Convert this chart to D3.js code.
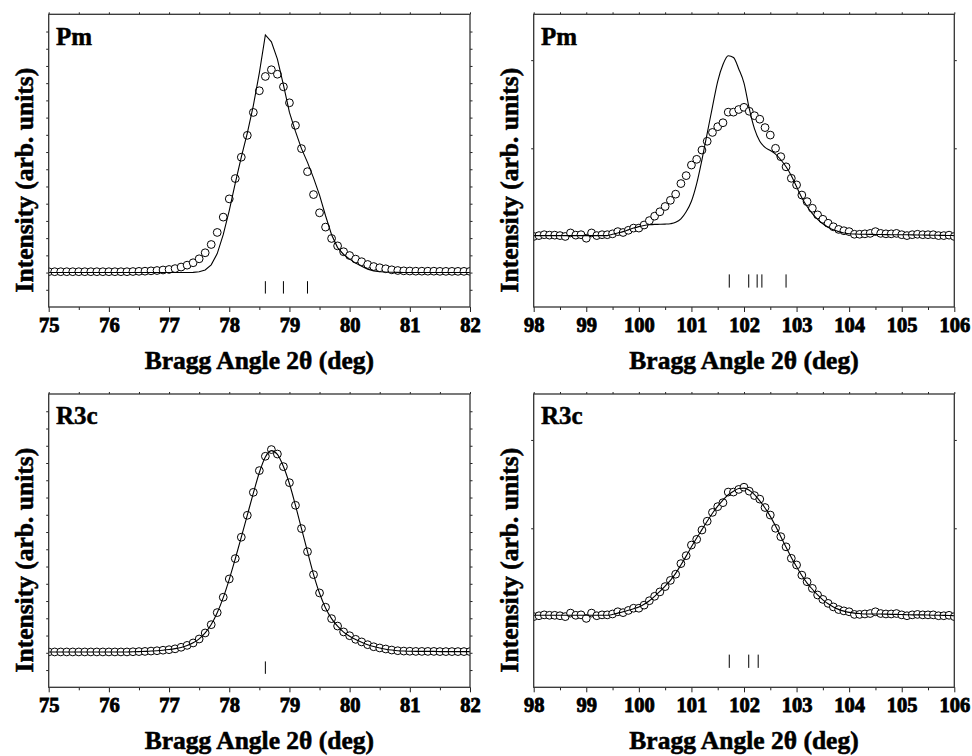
<!DOCTYPE html>
<html><head><meta charset="utf-8">
<script src="https://cdn.jsdelivr.net/npm/d3@7"></script>
<style>
body{margin:0;background:#fff}
text.lbl{font-family:'Liberation Serif','Times New Roman',serif;font-weight:700;fill:#000;stroke:#000}
</style>
</head><body>
<svg id="chart" width="972" height="756"></svg>
<script>
// ---------- DATA ----------
const angleStartLow = 75, angleStartHigh = 98, angleStep = 0.1;

// observed intensities, 75.0 .. 82.0 step 0.1
const obsLow = [
  2.05,2.05,2.05,2.05,2.05,2.05,2.05,2.05,2.05,2.05,2.05,2.05,2.05,2.05,
  2.06,2.07,2.08,2.10,2.12,2.15,2.18,2.23,2.32,2.43,2.57,2.80,3.15,3.63,4.33,5.22,
  6.28,7.46,8.70,9.97,11.30,12.56,13.39,13.78,13.52,12.79,11.86,10.55,9.20,7.86,6.53,5.47,
  4.64,3.98,3.55,3.21,2.99,2.78,2.63,2.47,2.35,2.28,2.22,2.16,2.12,2.10,2.09,2.08,
  2.08,2.08,2.08,2.07,2.07,2.07,2.07,2.07,2.07
];
// calculated profile, Pm model, 75.0 .. 82.0
const fitPmLow = [
  2.0,2.0,2.0,2.0,2.0,2.0,2.0,2.0,2.0,2.0,2.0,2.0,2.0,2.0,2.0,2.0,2.0,2.0,2.0,2.0,2.0,2.0,2.0,2.0,2.01,
  2.05,2.15,2.45,3.1,4.2,5.6,7.2,8.7,10.1,11.7,13.6,15.8,15.4,14.4,12.9,11.3,10.2,9.2,8.4,7.5,6.5,
  5.3,4.2,3.45,3.05,2.78,2.55,2.36,2.2,2.1,2.05,2.03,
  2.02,2.01,2.0,2.0,2.0,2.0,2.0,2.0,2.0,2.0,2.0,2.0,2.0,2.0
];
// calculated profile, R3c model, 75.0 .. 82.0
const fitR3cLow = [
  2.05,2.05,2.05,2.05,2.05,2.05,2.05,2.05,2.05,2.05,2.05,2.05,2.05,2.05,
  2.06,2.07,2.08,2.10,2.12,2.15,2.19,2.24,2.31,2.42,2.58,2.81,3.15,3.64,4.32,5.20,
  6.26,7.45,8.70,9.98,11.25,12.45,13.35,13.72,13.50,12.80,11.80,10.55,9.20,7.86,6.55,5.45,
  4.60,3.98,3.54,3.20,2.96,2.77,2.61,2.47,2.36,2.28,2.21,2.16,2.12,2.10,2.09,2.08,
  2.08,2.08,2.08,2.07,2.07,2.07,2.07,2.07,2.07
];
// observed intensities, 98.0 .. 106.0 step 0.1
const obsHigh = [
  0.00,0.01,0.02,0.015,0.015,0.01,0.00,0.04,0.015,0.02,-0.02,0.04,0.01,0.02,0.02,0.03,0.055,0.045,0.07,0.095,
  0.095,0.13,0.18,0.23,0.28,0.34,0.41,0.48,0.60,0.69,0.81,0.875,0.98,1.08,1.18,1.245,1.29,1.41,1.41,1.44,
  1.465,1.42,1.37,1.33,1.235,1.15,1.0,0.905,0.79,0.66,0.585,0.47,0.395,0.32,0.245,0.195,0.15,0.11,0.08,0.065,
  0.055,0.025,0.025,0.03,0.035,0.055,0.035,0.03,0.03,0.035,0.02,0.01,0.02,0.025,0.02,0.02,0.02,0.01,0.01,0.015,0.0
];
// calculated profile, Pm model, 98.0 .. 106.0
const fitPmHigh = [
  0.01,0.01,0.01,0.01,0.01,0.01,0.01,0.01,0.01,0.01,0.01,0.01,0.01,0.01,0.01,
  0.025,0.04,0.055,0.075,0.095,0.112,0.125,0.133,0.137,0.138,0.14,0.145,0.16,0.2,0.28,
  0.40,0.60,0.87,1.17,1.47,1.76,1.95,2.05,2.03,1.90,1.74,1.45,1.22,1.08,1.01,0.975,0.935,0.87,0.79,0.69,
  0.565,0.44,0.34,0.26,0.195,0.145,0.105,0.075,0.055,0.04,
  0.03,0.028,0.026,0.025,0.024,0.023,0.022,0.021,0.02,0.02,0.02,0.019,0.018,0.017,0.016,0.015,0.014,0.013,0.012,0.011,0.01
];
// calculated profile, R3c model, 98.0 .. 106.0
const fitR3cHigh = [
  0.015,0.015,0.015,0.015,0.015,0.015,0.015,0.015,0.015,0.015,0.015,0.015,0.015,0.015,0.015,
  0.025,0.04,0.055,0.072,0.09,0.11,0.14,0.18,0.23,0.285,0.345,0.41,0.49,0.585,0.685,
  0.79,0.89,0.985,1.08,1.17,1.25,1.32,1.38,1.42,1.45,1.455,1.43,1.38,1.31,1.23,1.135,1.025,0.905,0.785,0.67,
  0.565,0.465,0.38,0.31,0.245,0.19,0.145,0.11,0.082,0.062,0.048,0.04,0.035,
  0.03,0.03,0.03,0.03,0.028,0.026,0.025,0.024,0.022,0.02,0.02,0.02,0.018,0.016,0.015,0.014,0.012,0.01
];
// Bragg reflection positions
const reflPmLow = [78.6, 78.9, 79.3];
const reflR3cLow = [78.6];
const reflPmHigh = [101.72, 102.09, 102.25, 102.34, 102.8];
const reflR3cHigh = [101.72, 102.09, 102.27];

const xTicksLow = [75, 76, 77, 78, 79, 80, 81, 82];
const xTicksHigh = [98, 99, 100, 101, 102, 103, 104, 105, 106];
const yTicksLow = [1,2,3,4,5,6,7,8,9,10,11,12,13,14,15,16];
const yTicksHigh = [1, 2];
const panelLabels = ["Pm", "Pm", "R3c", "R3c"];
const xTitle = "Bragg Angle 2\u03B8 (deg)";
const yTitle = "Intensity (arb. units)";

// ---------- LAYOUT ----------
const svg = d3.select("#chart");

const toPoints = (start, vals) => vals.map((v, i) => ({x: +(start + i * angleStep).toFixed(2), y: v}));

const panels = [
  {box:{l:48.7,r:470,t:14.3,b:307}, xd:[75,82], yd:[0,17], xt:xTicksLow, yt:yTicksLow,
   obs:toPoints(angleStartLow, obsLow), fit:toPoints(angleStartLow, fitPmLow), refl:reflPmLow, rr:[0.78,1.5], curve:d3.curveLinear},
  {box:{l:533.7,r:954.3,t:14.3,b:307}, xd:[98,106], yd:[-0.8,2.52], xt:xTicksHigh, yt:yTicksHigh,
   obs:toPoints(angleStartHigh, obsHigh), fit:toPoints(angleStartHigh, fitPmHigh), refl:reflPmHigh, rr:[-0.58,-0.43], curve:d3.curveMonotoneX},
  {box:{l:48.7,r:470,t:394,b:687.3}, xd:[75,82], yd:[0,17], xt:xTicksLow, yt:yTicksLow,
   obs:toPoints(angleStartLow, obsLow), fit:toPoints(angleStartLow, fitR3cLow), refl:reflR3cLow, rr:[0.78,1.5], curve:d3.curveMonotoneX},
  {box:{l:533.7,r:954.3,t:394,b:687.3}, xd:[98,106], yd:[-0.8,2.52], xt:xTicksHigh, yt:yTicksHigh,
   obs:toPoints(angleStartHigh, obsHigh), fit:toPoints(angleStartHigh, fitR3cHigh), refl:reflR3cHigh, rr:[-0.58,-0.43], curve:d3.curveMonotoneX}
];

panels.forEach((p, i) => {
  const {l, r, t, b} = p.box;
  const x = d3.scaleLinear().domain(p.xd).range([l, r]);
  const y = d3.scaleLinear().domain(p.yd).range([b, t]);
  const g = svg.append("g");

  const clipId = "clip" + i;
  svg.append("clipPath").attr("id", clipId)
    .append("rect").attr("x", l).attr("y", t).attr("width", r - l).attr("height", b - t);

  const halves = d3.range(p.xd[0], p.xd[1] + 0.001, 0.5).filter(v => Math.abs(v - Math.round(v)) > 0.01);

  // axes (ticks)
  g.append("g").attr("transform", `translate(0,${b})`)
    .call(d3.axisBottom(x).tickValues(halves).tickSize(3).tickFormat(""))
    .call(s => s.select(".domain").remove())
    .call(s => s.selectAll("line").attr("stroke", "#222"));
  g.append("g").attr("transform", `translate(0,${b})`)
    .call(d3.axisBottom(x).tickValues(p.xt).tickSize(5).tickFormat(d3.format("d")))
    .call(s => s.select(".domain").remove())
    .call(s => s.selectAll("line").attr("stroke", "#222"))
    .call(s => s.selectAll("text").attr("y", 24.5).attr("dy", null).attr("class", "lbl")
      .style("font-size", "20.5px").style("stroke-width", "0.85px"));
  g.append("g").attr("transform", `translate(0,${t})`)
    .call(d3.axisTop(x).tickValues(d3.range(p.xd[0], p.xd[1] + 0.001, 0.5)).tickSize(2).tickFormat(""))
    .call(s => s.select(".domain").remove())
    .call(s => s.selectAll("line").attr("stroke", "#222"));
  g.append("g").attr("transform", `translate(${l},0)`)
    .call(d3.axisLeft(y).tickValues(p.yt).tickSize(2.5).tickFormat(""))
    .call(s => s.select(".domain").remove())
    .call(s => s.selectAll("line").attr("stroke", "#222"));
  g.append("g").attr("transform", `translate(${r},0)`)
    .call(d3.axisRight(y).tickValues(p.yt).tickSize(2.5).tickFormat(""))
    .call(s => s.select(".domain").remove())
    .call(s => s.selectAll("line").attr("stroke", "#222"));

  const plot = g.append("g").attr("clip-path", `url(#${clipId})`);
  // observed points
  plot.selectAll("circle").data(p.obs).join("circle")
    .attr("cx", d => x(d.x)).attr("cy", d => y(d.y)).attr("r", 3.9)
    .attr("fill", "#fff").attr("stroke", "#000").attr("stroke-width", 1);
  // calculated line
  plot.append("path").datum(p.fit)
    .attr("d", d3.line().x(d => x(d.x)).y(d => y(d.y)).curve(p.curve))
    .attr("fill", "none").attr("stroke", "#000").attr("stroke-width", 1.1);
  // reflection markers
  plot.selectAll("line.refl").data(p.refl).join("line").attr("class", "refl")
    .attr("x1", d => x(d)).attr("x2", d => x(d))
    .attr("y1", y(p.rr[0])).attr("y2", y(p.rr[1]))
    .attr("stroke", "#000").attr("stroke-width", 1);

  // frame
  g.append("rect").attr("x", l).attr("y", t).attr("width", r - l).attr("height", b - t)
    .attr("fill", "none").attr("stroke", "#333").attr("stroke-width", 1.3);

  // panel label
  g.append("text").attr("class", "lbl").attr("x", l + 7.3).attr("y", t + 30.2)
    .style("font-size", "25px").style("stroke-width", "0.5px")
    .text(panelLabels[i]);

  // axis titles
  g.append("text").attr("class", "lbl").attr("x", (l + r) / 2).attr("y", b + 62)
    .attr("text-anchor", "middle")
    .style("font-size", "25.5px").style("stroke-width", "0.55px")
    .text(xTitle);
  g.append("text").attr("class", "lbl")
    .attr("transform", `translate(${l - 16},${(t + b) / 2 + 19.5}) rotate(-90)`)
    .attr("text-anchor", "middle")
    .style("font-size", "25.5px").style("stroke-width", "0.55px")
    .text(yTitle);
});
</script>
</body></html>
